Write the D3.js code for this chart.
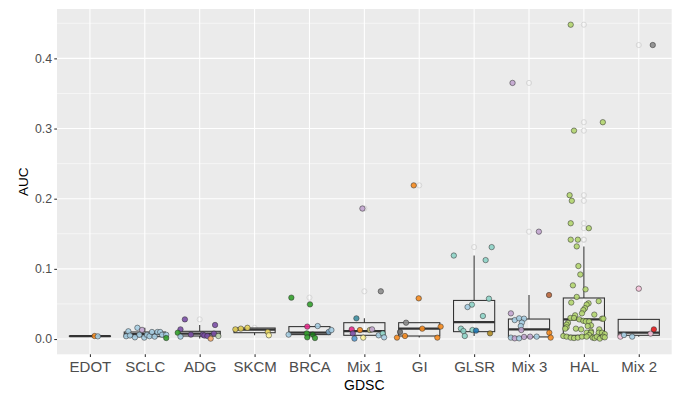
<!DOCTYPE html>
<html>
<head>
<meta charset="utf-8">
<script src="https://cdn.jsdelivr.net/npm/d3@7"></script>
<style>
  html, body { margin: 0; padding: 0; background: #ffffff; }
  svg { display: block; font-family: "Liberation Sans", Arial, Helvetica, sans-serif; }
</style>
</head>
<body>
<svg id="chart" width="680" height="394"></svg>
<script>
// ---- data -----------------------------------------------------------------
const categories = ["EDOT", "SCLC", "ADG", "SKCM", "BRCA", "Mix 1", "GI", "GLSR", "Mix 3", "HAL", "Mix 2"];

// box summaries per category (same order as categories)
const q1          = [0.0038, 0.0034, 0.0043, 0.0090, 0.0063, 0.0053, 0.0043, 0.0105, 0.0030, 0.0053, 0.0053];
const median      = [0.0040, 0.0071, 0.0077, 0.0135, 0.0090, 0.0114, 0.0148, 0.0242, 0.0138, 0.0280, 0.0090];
const q3          = [0.0042, 0.0100, 0.0110, 0.0157, 0.0177, 0.0233, 0.0233, 0.0550, 0.0285, 0.0585, 0.0280];
const whiskerLow  = [0.0038, 0.0014, 0.0006, 0.0053, 0.0014, 0.0006, 0.0020, 0.0043, 0.0010, 0.0006, 0.0034];
const whiskerHigh = [0.0043, 0.0160, 0.0200, 0.0157, 0.0185, 0.0295, 0.0233, 0.1190, 0.0627, 0.1320, 0.0280];

// individual cell lines: [AUC, horizontal jitter (category units), colour group]
const ptsEDOT = [[0.0043, 0.085, "o"], [0.0038, 0.145, "lb"]];
const ptsSCLC = [
  [0.011, -0.30, "lb"], [0.004, -0.34, "lb"], [0.005, -0.27, "lb"], [0.016, -0.135, "lb"],
  [0.013, -0.05, "lp"], [0.006, -0.10, "lb"], [0.0024, -0.18, "lb"], [0.002, -0.01, "lb"],
  [0.006, 0.04, "lb"], [0.004, 0.085, "lb"], [0.010, 0.13, "lb"], [0.0034, 0.18, "lb"],
  [0.010, 0.23, "lb"], [0.010, 0.28, "lb"], [0.006, 0.315, "lb"], [0.006, 0.39, "lb"],
  [0.0014, 0.39, "g"]
];
const ptsADG = [
  [0.028, -0.27, "p"], [0.020, 0.28, "p"], [0.0138, -0.35, "p"], [0.009, -0.40, "g"],
  [0.0034, -0.35, "lb"], [0.0063, -0.16, "p"], [0.0063, 0.055, "p"], [0.005, 0.085, "p"],
  [0.0043, 0.14, "p"], [0.0006, 0.20, "lo"], [0.0077, 0.26, "p"], [0.0043, 0.34, "pg"]
];
const ptsSKCM = [
  [0.0138, -0.35, "y"], [0.0148, -0.25, "y"], [0.0160, -0.13, "y"],
  [0.0100, 0.24, "y"], [0.0053, 0.26, "ly"]
];
const ptsBRCA = [
  [0.059, -0.33, "g"], [0.0494, 0.01, "g"], [0.0177, -0.04, "m"], [0.0185, 0.15, "lb"],
  [0.0063, -0.38, "lb"], [0.008, -0.05, "g"], [0.0024, -0.04, "g"], [0.0063, 0.06, "dg"],
  [0.0014, 0.10, "g"], [0.010, 0.35, "sb"], [0.0128, 0.40, "lb"]
];
const ptsMix1 = [
  [0.186, -0.035, "lp"], [0.068, 0.30, "gr"], [0.0295, -0.145, "tl"], [0.0138, -0.23, "m"],
  [0.008, -0.21, "p"], [0.0128, -0.08, "o"], [0.0128, 0.10, "kh"], [0.0138, 0.14, "lp"],
  [0.0006, -0.18, "bl"], [0.002, -0.02, "ly"], [0.0053, 0.26, "lb"], [0.008, 0.335, "t"],
  [0.0024, 0.36, "lb"]
];
const ptsGI = [
  [0.219, -0.10, "o"], [0.058, -0.01, "o"], [0.0233, -0.24, "gr"], [0.0148, 0.055, "o"],
  [0.0177, 0.39, "o"], [0.010, -0.35, "dgr"], [0.002, -0.405, "o"], [0.0043, -0.26, "o"],
  [0.002, 0.33, "o"]
];
const ptsGLSR = [
  [0.119, -0.37, "t"], [0.131, 0.32, "t"], [0.1125, 0.21, "t"], [0.0575, 0.27, "t"],
  [0.049, -0.04, "t"], [0.0456, -0.12, "lb"], [0.0328, 0.16, "t"], [0.0148, -0.24, "t"],
  [0.0114, -0.195, "t"], [0.0043, -0.17, "t"], [0.0128, -0.03, "t"], [0.012, 0.035, "db"],
  [0.0081, 0.29, "ol"]
];
const ptsMix3 = [
  [0.365, -0.30, "lp"], [0.153, 0.18, "lp"], [0.0627, 0.365, "br"], [0.0366, -0.33, "lp"],
  [0.027, -0.26, "lb"], [0.0295, -0.18, "lb"], [0.029, -0.09, "lb"], [0.0234, -0.13, "lb"],
  [0.0185, -0.15, "lb"], [0.0128, -0.14, "lp"], [0.002, -0.33, "lb"], [0.001, -0.26, "lp"],
  [0.001, -0.18, "lb"], [0.003, -0.09, "lp"], [0.0034, 0.02, "lp"], [0.0034, 0.14, "lb"],
  [0.009, 0.37, "o"], [0.002, 0.395, "o"]
];
const ptsHAL = [
  [0.448, -0.24], [0.309, 0.345], [0.297, -0.18], [0.205, -0.26], [0.197, -0.22],
  [0.165, -0.24], [0.158, 0.09], [0.1416, -0.24], [0.1416, -0.11], [0.132, -0.13],
  [0.104, -0.10], [0.092, -0.065], [0.0765, -0.20], [0.0708, 0.03], [0.060, -0.13],
  [0.052, -0.23], [0.054, 0.27], [0.0509, 0.085], [0.049, 0.05], [0.044, 0.02],
  [0.0413, -0.01], [0.0366, -0.035], [0.0338, -0.16], [0.0348, 0.19], [0.030, -0.245],
  [0.030, -0.18], [0.028, -0.085], [0.026, -0.01], [0.025, 0.035], [0.025, 0.095],
  [0.029, 0.33], [0.029, 0.355], [0.023, -0.29], [0.0205, -0.315], [0.0195, 0.13],
  [0.0185, 0.07], [0.0167, -0.315], [0.0148, -0.34], [0.0148, -0.145], [0.0138, -0.05],
  [0.0138, 0.28], [0.011, 0.13], [0.009, 0.05], [0.009, 0.13], [0.009, 0.27],
  [0.009, 0.33], [0.0071, 0.38], [0.0057, 0.095], [0.0043, -0.375], [0.0034, -0.315],
  [0.002, -0.24], [0.0014, -0.18], [0.002, -0.11], [0.0034, -0.035], [0.0034, 0.05],
  [0.002, 0.16], [0.0014, 0.195], [0.0034, 0.235], [0.0006, 0.29], [0.0034, 0.35],
  [0.0024, 0.38]
].map(d => [d[0], d[1], "hal"]);
const ptsMix2 = [
  [0.419, 0.255, "gr"], [0.0718, 0.0, "pk"], [0.0034, -0.335, "pk"], [0.0057, -0.27, "lb"],
  [0.0034, -0.12, "lb"], [0.0077, 0.215, "pk"], [0.0138, 0.275, "r"]
];

const yTicks = [0.0, 0.1, 0.2, 0.3, 0.4];
const yMinor = [0.05, 0.15, 0.25, 0.35, 0.45];

// ---- styles ---------------------------------------------------------------
const fills = {
  lb: "#a6cee3", db: "#1f78b4", g: "#33a02c", dg: "#1b7a1b", hal: "#b2d56f",
  pg: "#c5dcb5", pk: "#f6c3da", r: "#e31a1c", lo: "#f0a868", o: "#f58b1f",
  lp: "#c2a5cf", p: "#7b4fa6", y: "#e8d35a", ly: "#fff59a", br: "#b8653a",
  t: "#8dd3c7", tl: "#3d8ea0", m: "#e7298a", gr: "#8c8c8c", dgr: "#6e6e6e",
  bl: "#5a9ad0", sb: "#7aa6c8", kh: "#c9c97a", ol: "#b08d25"
};

const W = 680, H = 394;
const margin = { top: 9, right: 8.3, bottom: 39.7, left: 57 };
const svg = d3.select("#chart");

const groups = [ptsEDOT, ptsSCLC, ptsADG, ptsSKCM, ptsBRCA, ptsMix1, ptsGI, ptsGLSR, ptsMix3, ptsHAL, ptsMix2];
const points = groups.flatMap((arr, i) =>
  arr.map(d => ({ cat: categories[i], idx: i, value: d[0], jitter: d[1], key: d[2] })));

// ---- scales ---------------------------------------------------------------
const x = d3.scalePoint()
  .domain(categories)
  .range([margin.left, W - margin.right])
  .padding(0.6);
const step = x.step();

const ext = d3.extent(points, d => d.value);
const pad = (ext[1] - ext[0]) * 0.05;
const y = d3.scaleLinear()
  .domain([ext[0] - pad, ext[1] + pad])
  .range([H - margin.bottom, margin.top]);

// ---- panel ----------------------------------------------------------------
const pL = margin.left, pR = W - margin.right, pT = margin.top, pB = H - margin.bottom;
svg.append("rect")
  .attr("x", pL).attr("y", pT)
  .attr("width", pR - pL).attr("height", pB - pT)
  .attr("fill", "#ebebeb");

const grid = svg.append("g");
grid.selectAll("line.minor").data(yMinor.filter(v => y(v) >= pT)).join("line")
  .attr("x1", pL).attr("x2", pR)
  .attr("y1", d => y(d)).attr("y2", d => y(d))
  .attr("stroke", "#ffffff").attr("stroke-width", 0.53);
grid.selectAll("line.major").data(yTicks).join("line")
  .attr("x1", pL).attr("x2", pR)
  .attr("y1", d => y(d)).attr("y2", d => y(d))
  .attr("stroke", "#ffffff").attr("stroke-width", 1.07);
grid.selectAll("line.vert").data(categories).join("line")
  .attr("x1", d => x(d)).attr("x2", d => x(d))
  .attr("y1", pT).attr("y2", pB)
  .attr("stroke", "#ffffff").attr("stroke-width", 1.07);

// ---- boxplots -------------------------------------------------------------
const boxW = step * 0.75;
const boxColor = "#333333";
const boxes = svg.append("g");

// outliers (hollow, at the category centre)
const outliers = points.filter(d => d.value > whiskerHigh[d.idx] + 1e-9 || d.value < whiskerLow[d.idx] - 1e-9);
boxes.selectAll("circle.out").data(outliers).join("circle")
  .attr("cx", d => x(d.cat)).attr("cy", d => y(d.value))
  .attr("r", 2.6)
  .attr("fill", "none")
  .attr("stroke", "#d4d4d4")
  .attr("stroke-width", 0.9);

categories.forEach((c, i) => {
  const cx = x(c);
  const g = boxes.append("g");
  // whiskers
  g.append("line").attr("x1", cx).attr("x2", cx)
    .attr("y1", y(q3[i])).attr("y2", y(whiskerHigh[i]))
    .attr("stroke", boxColor).attr("stroke-width", 1.07);
  g.append("line").attr("x1", cx).attr("x2", cx)
    .attr("y1", y(q1[i])).attr("y2", y(whiskerLow[i]))
    .attr("stroke", boxColor).attr("stroke-width", 1.07);
  // hinge box
  g.append("rect")
    .attr("x", cx - boxW / 2).attr("width", boxW)
    .attr("y", y(q3[i])).attr("height", Math.max(0, y(q1[i]) - y(q3[i])))
    .attr("fill", "none").attr("stroke", boxColor).attr("stroke-width", 1.07);
  // median
  g.append("line")
    .attr("x1", cx - boxW / 2).attr("x2", cx + boxW / 2)
    .attr("y1", y(median[i])).attr("y2", y(median[i]))
    .attr("stroke", boxColor).attr("stroke-width", 2.2);
});

// ---- jittered points ------------------------------------------------------
svg.append("g").selectAll("circle").data(points).join("circle")
  .attr("cx", d => x(d.cat) + d.jitter * step)
  .attr("cy", d => y(d.value))
  .attr("r", 2.7)
  .attr("fill", d => fills[d.key])
  .attr("fill-opacity", 0.9)
  .attr("stroke", "#2b2b2b")
  .attr("stroke-opacity", 0.85)
  .attr("stroke-width", 0.6);

// ---- axes -----------------------------------------------------------------
const yAxis = svg.append("g")
  .attr("transform", `translate(${pL},0)`)
  .call(d3.axisLeft(y).tickValues(yTicks).tickFormat(d3.format(".1f")).tickSize(2.74).tickPadding(2.2));
yAxis.select(".domain").remove();
yAxis.selectAll(".tick line").attr("stroke", "#333333").attr("stroke-width", 1.07);
yAxis.selectAll(".tick text")
  .attr("fill", "#4d4d4d")
  .style("font-size", "12.3px")
  .style("font-family", "'Liberation Sans', Arial, Helvetica, sans-serif");

const xAxis = svg.append("g")
  .attr("transform", `translate(0,${pB})`)
  .call(d3.axisBottom(x).tickSize(2.74).tickPadding(4));
xAxis.select(".domain").remove();
xAxis.selectAll(".tick line").attr("stroke", "#333333").attr("stroke-width", 1.07);
xAxis.selectAll(".tick text")
  .attr("fill", "#4d4d4d")
  .style("font-size", "15px")
  .style("font-family", "'Liberation Sans', Arial, Helvetica, sans-serif");

// axis titles
svg.append("text")
  .attr("x", (pL + pR) / 2).attr("y", 389.5)
  .attr("text-anchor", "middle")
  .attr("fill", "#000000")
  .style("font-size", "14px")
  .text("GDSC");

svg.append("text")
  .attr("transform", `translate(28.3,${(pT + pB) / 2}) rotate(-90)`)
  .attr("text-anchor", "middle")
  .attr("fill", "#000000")
  .style("font-size", "13.5px")
  .text("AUC");
</script>
</body>
</html>
